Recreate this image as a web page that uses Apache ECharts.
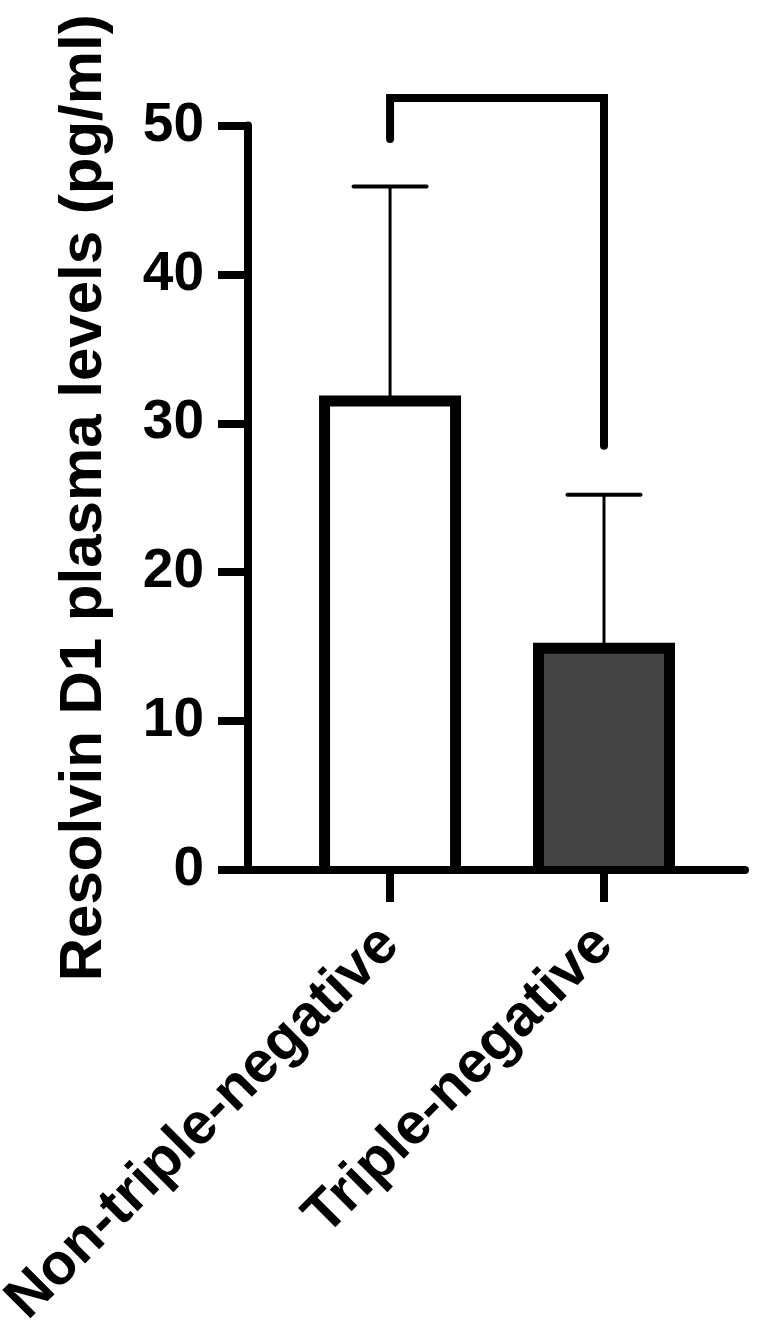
<!DOCTYPE html>
<html>
<head>
    <meta charset="utf-8" />
    <script src="https://cdn.jsdelivr.net/npm/echarts@6/dist/echarts.min.js"></script>
    <title></title>
</head>
<body style="margin:0;background:#fff">
    <div id="main" style="width:768px;height:1331px"></div>
</body>
</html>
<script>
    // data
    var groups = ['Non-triple-negative', 'Triple-negative'];
    var groupPos = [1, 2];
    var means = [31.5, 14.9];
    var sds = [14.4, 10.3];
    var barFill = ['#ffffff', '#444444'];
    var yTicks = [0, 10, 20, 30, 40, 50];
    // significance bracket: from, to, top, left leg end, right leg end
    var bracket = [[1, 2, 51.85, 49.1, 28.5]];

    var font = '"Liberation Sans", Arial, sans-serif';

    var barData = [];
    for (var i = 0; i < groups.length; i++) {
        barData.push([groupPos[i], means[i], sds[i]]);
    }

    var chart = echarts.init(document.getElementById('main'));
    var option = {
        animation: false,
        backgroundColor: '#fff',
        grid: { left: 248, right: 23, top: 125.5, bottom: 461, outerBoundsMode: 'none' },
        xAxis: {
            type: 'value',
            min: 0.336,
            max: 2.659,
            z: 10,
            splitLine: { show: false },
            axisLine: { lineStyle: { color: '#000', width: 8 } },
            axisTick: {
                customValues: groupPos,
                length: 32,
                lineStyle: { color: '#000', width: 8 }
            },
            axisLabel: {
                customValues: groupPos,
                rotate: 45,
                margin: 66,
                align: 'right',
                verticalAlign: 'middle',
                color: '#000',
                fontSize: 58,
                fontWeight: 'bold',
                fontFamily: font,
                formatter: function (v) {
                    var k = groupPos.indexOf(v);
                    return k < 0 ? '' : groups[k];
                }
            }
        },
        yAxis: {
            type: 'value',
            min: yTicks[0],
            max: yTicks[yTicks.length - 1],
            interval: 10,
            z: 10,
            name: 'Resolvin D1 plasma levels (pg/ml)',
            nameLocation: 'middle',
            nameGap: 134,
            nameTextStyle: {
                color: '#000',
                fontSize: 60,
                fontWeight: 'bold',
                fontFamily: font
            },
            splitLine: { show: false },
            axisLine: { show: true, lineStyle: { color: '#000', width: 8 } },
            axisTick: { show: true, length: 30, lineStyle: { color: '#000', width: 8 } },
            axisLabel: {
                margin: 44,
                color: '#000',
                fontSize: 55,
                fontWeight: 'bold',
                fontFamily: font
            }
        },
        series: [
            {
                // bars: fill plus a three-sided outline, open at the axis
                type: 'custom',
                z: 2,
                data: barData,
                renderItem: function (params, api) {
                    var x = api.value(0), m = api.value(1);
                    var base = api.coord([x, 0]);
                    var top = api.coord([x, m]);
                    var hw = 65.5;
                    return {
                        type: 'group',
                        children: [
                            {
                                type: 'rect',
                                shape: { x: top[0] - hw, y: top[1], width: hw * 2, height: base[1] - top[1] },
                                style: { fill: barFill[params.dataIndex] }
                            },
                            {
                                type: 'polyline',
                                shape: {
                                    points: [
                                        [top[0] - hw, base[1]], [top[0] - hw, top[1]],
                                        [top[0] + hw, top[1]], [top[0] + hw, base[1]]
                                    ]
                                },
                                style: { stroke: '#000', fill: null, lineWidth: 11, lineJoin: 'miter' }
                            }
                        ]
                    };
                }
            },
            {
                // error bars (mean + SD)
                type: 'custom',
                z: 1,
                data: barData,
                renderItem: function (params, api) {
                    var x = api.value(0), m = api.value(1), s = api.value(2);
                    var p0 = api.coord([x, m]);
                    var p1 = api.coord([x, m + s]);
                    var hw = 36.5;
                    return {
                        type: 'group',
                        children: [
                            {
                                type: 'line',
                                shape: { x1: p0[0], y1: p0[1], x2: p1[0], y2: p1[1] },
                                style: { stroke: '#000', lineWidth: 3 }
                            },
                            {
                                type: 'line',
                                shape: { x1: p1[0] - hw, y1: p1[1], x2: p1[0] + hw, y2: p1[1] },
                                style: { stroke: '#000', lineWidth: 4, lineCap: 'round' }
                            }
                        ]
                    };
                }
            },
            {
                type: 'custom',
                data: bracket,
                renderItem: function (params, api) {
                    var a = api.coord([api.value(0), api.value(3)]);
                    var b = api.coord([api.value(0), api.value(2)]);
                    var c = api.coord([api.value(1), api.value(2)]);
                    var d = api.coord([api.value(1), api.value(4)]);
                    return {
                        type: 'polyline',
                        shape: { points: [a, b, c, d] },
                        style: { stroke: '#000', fill: null, lineWidth: 8, lineCap: 'round', lineJoin: 'miter' }
                    };
                }
            }
        ]
    };
    chart.setOption(option);
</script>
